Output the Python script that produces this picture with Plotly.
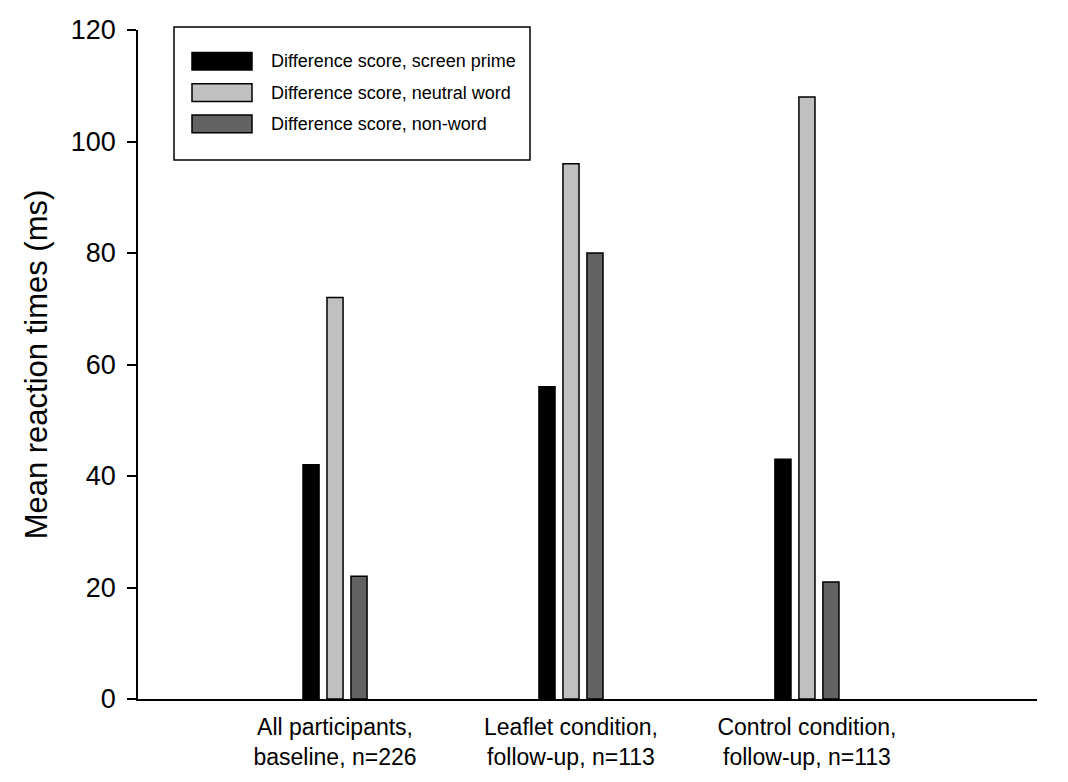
import plotly.graph_objects as go

categories = ["All participants,<br>baseline, n=226",
              "Leaflet condition,<br>follow-up, n=113",
              "Control condition,<br>follow-up, n=113"]
series_names = ["Difference score, screen prime",
                "Difference score, neutral word",
                "Difference score, non-word"]
screen_prime = [42, 56, 43]
neutral_word = [72, 96, 108]
non_word = [22, 80, 21]
y_ticks = [0, 20, 40, 60, 80, 100, 120]

colors = ["#000000", "#c0c0c0", "#636363"]
values = [screen_prime, neutral_word, non_word]

W, H = 1068, 782
ML, MR, MT, MB = 130, 39, 7, 91
PW, PH = W - ML - MR, H - MT - MB

def px(x):
    return (x - ML) / PW

def py(y):
    return (H - MB - y) / PH

fig = go.Figure()
for name, vals, col in zip(series_names, values, colors):
    fig.add_trace(go.Bar(x=categories, y=vals, name=name,
                         marker=dict(color=col, line=dict(color="#000000", width=1.5)),
                         showlegend=False))

font_main = "Liberation Sans, Arial, sans-serif"

fig.update_layout(
    width=W, height=H,
    margin=dict(l=ML, r=MR, t=MT, b=MB),
    paper_bgcolor="white", plot_bgcolor="white",
    barmode="group", bargap=0.695, bargroupgap=0.33,
    font=dict(family=font_main, color="#000000", size=20),
    xaxis=dict(range=[-0.835, 2.975], showline=True, linecolor="#000000", linewidth=2,
               ticks="", showgrid=False, zeroline=False, ticklabelstandoff=6,
               tickfont=dict(size=23)),
    yaxis=dict(range=[0, 120], tickvals=y_ticks, showline=True, linecolor="#000000",
               linewidth=1.5, ticks="outside", ticklen=9, tickwidth=1.5, tickcolor="#000000",
               showgrid=False, zeroline=False, tickfont=dict(size=27),
               ticklabeloverflow="allow", ticklabelstandoff=6,
               title=dict(text="Mean reaction times (ms)", standoff=14,
                          font=dict(size=31))),
)

# Legend drawn as shapes + text
shapes = [dict(type="rect", xref="paper", yref="paper",
               x0=px(166), x1=px(522), y0=py(140), y1=py(4),
               line=dict(color="#000000", width=1.5), fillcolor="white", layer="above")]
annotations = []
rows = [39, 71, 103]
for name, col, r in zip(series_names, colors, rows):
    shapes.append(dict(type="rect", xref="paper", yref="paper",
                       x0=px(184), x1=px(244), y0=py(r + 9), y1=py(r - 9),
                       line=dict(color="#000000", width=1.5), fillcolor=col, layer="above"))
    annotations.append(dict(xref="paper", yref="paper", x=px(261), y=py(r),
                            xanchor="left", yanchor="middle", showarrow=False,
                            text=name, font=dict(size=18, color="#000000")))
fig.update_layout(shapes=shapes, annotations=annotations)

fig.write_html("out.html")
